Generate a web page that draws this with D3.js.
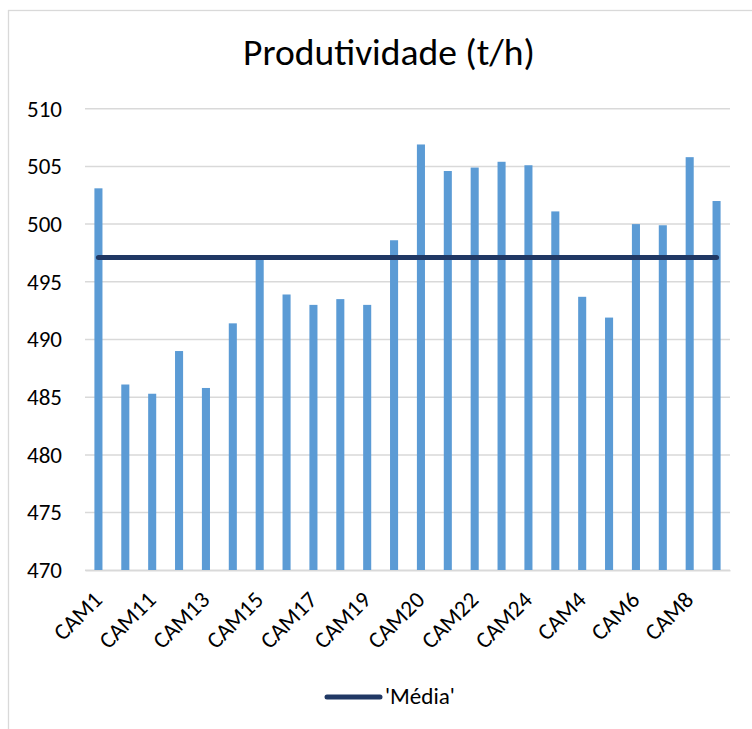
<!DOCTYPE html>
<html>
<head>
<meta charset="utf-8">
<script src="https://cdn.jsdelivr.net/npm/d3@7"></script>
<style>
  body { margin: 0; background: #fff; }
  #chart { width: 752px; height: 729px; }
  text { font-family: Carlito, Lato, 'Open Sans', sans-serif; fill: #000; }
</style>
</head>
<body>
<div id="chart"></div>
<script>
const categories = [
  'CAM1', 'CAM10', 'CAM11', 'CAM12', 'CAM13', 'CAM14', 'CAM15', 'CAM16',
  'CAM17', 'CAM18', 'CAM19', 'CAM2', 'CAM20', 'CAM21', 'CAM22', 'CAM23',
  'CAM24', 'CAM3', 'CAM4', 'CAM5', 'CAM6', 'CAM7', 'CAM8', 'CAM9',
];
const produtividade = [
  503.1, 486.1, 485.3, 489.0, 485.8, 491.4, 497.0, 493.9,
  493.0, 493.5, 493.0, 498.6, 506.9, 504.6, 504.9, 505.4,
  505.1, 501.1, 493.7, 491.9, 500.0, 499.9, 505.8, 502.0,
];
const media = [
  497.1, 497.1, 497.1, 497.1, 497.1, 497.1, 497.1, 497.1,
  497.1, 497.1, 497.1, 497.1, 497.1, 497.1, 497.1, 497.1,
  497.1, 497.1, 497.1, 497.1, 497.1, 497.1, 497.1, 497.1,
];
const yTicks = [470, 475, 480, 485, 490, 495, 500, 505, 510];

const margin = { top: 108.7, right: 22, bottom: 158.7, left: 85 },
  width = 752 - margin.left - margin.right,
  height = 729 - margin.top - margin.bottom;

// scale a text's font so that the given node is `target` px wide
function fitFont(sel, node, target) {
  const w = node.getComputedTextLength();
  const fs = parseFloat(d3.select(node).style('font-size'));
  sel.style('font-size', (fs * target) / w + 'px');
}

const root = d3
  .select('#chart')
  .append('svg')
  .attr('width', 752)
  .attr('height', 729);

// chart frame (only left and top edges are inside the window)
root
  .append('rect')
  .attr('x', 8.5)
  .attr('y', 10.5)
  .attr('width', 800)
  .attr('height', 800)
  .attr('fill', 'none')
  .attr('stroke', '#d9d9d9')
  .attr('stroke-width', 1.3);

const title = root
  .append('text')
  .attr('x', 389)
  .attr('y', 65)
  .attr('text-anchor', 'middle')
  .style('font-size', '31px')
  .text('Produtividade (t/h)');
fitFont(title, title.node(), 292);

const svg = root
  .append('g')
  .attr('transform', 'translate(' + margin.left + ',' + margin.top + ')');

const x = d3
  .scaleBand()
  .domain(categories)
  .range([0, width])
  .paddingInner(0.7)
  .paddingOuter(0.35);
const y = d3.scaleLinear().domain([470, 510]).range([height, 0]);

// gridlines
svg
  .selectAll('.grid')
  .data(yTicks)
  .enter()
  .append('line')
  .attr('class', 'grid')
  .attr('x1', 0)
  .attr('x2', width)
  .attr('y1', (d) => y(d))
  .attr('y2', (d) => y(d))
  .attr('stroke', '#d9d9d9')
  .attr('stroke-width', 1.5);

// y axis labels
const yAxis = svg
  .append('g')
  .call(d3.axisLeft(y).tickValues(yTicks).tickSize(0).tickPadding(23));
yAxis.select('.domain').remove();
const yLabels = yAxis
  .selectAll('text')
  .attr('font-family', null)
  .style('font-size', '20px');
fitFont(yLabels, yLabels.filter((d) => d === 510).node(), 35);

// bars
svg
  .selectAll('.bar')
  .data(categories)
  .enter()
  .append('rect')
  .attr('class', 'bar')
  .attr('x', (d) => x(d))
  .attr('y', (d, i) => y(produtividade[i]))
  .attr('width', x.bandwidth())
  .attr('height', (d, i) => height - y(produtividade[i]))
  .attr('fill', '#5b9bd5');

// x axis, labels on every second category
const xAxis = svg
  .append('g')
  .attr('transform', `translate(0,${height})`)
  .call(
    d3
      .axisBottom(x)
      .tickSize(0)
      .tickFormat((d, i) => (i % 2 === 0 ? d : ''))
  );
xAxis.select('.domain').attr('stroke', '#d9d9d9').attr('stroke-width', 1.5);
const xLabels = xAxis
  .selectAll('text')
  .attr('font-family', null)
  .style('font-size', '20px')
  .style('text-anchor', 'end')
  .attr('y', 0)
  .attr('dx', 0)
  .attr('dy', 0)
  .attr('transform', 'translate(5,31) rotate(-45)');
fitFont(xLabels, xLabels.filter((d) => d === 'CAM20').node(), 69);

// mean line
const line = d3
  .line()
  .x((d, i) => x(categories[i]) + x.bandwidth() / 2)
  .y((d) => y(d));

svg
  .append('path')
  .datum(media)
  .attr('fill', 'none')
  .attr('stroke', '#203864')
  .attr('stroke-width', 5)
  .attr('stroke-linecap', 'round')
  .attr('d', line);

// legend
const legend = root.append('g').attr('transform', 'translate(327,697)');
legend
  .append('line')
  .attr('x1', 0)
  .attr('x2', 53)
  .attr('stroke', '#203864')
  .attr('stroke-width', 5)
  .attr('stroke-linecap', 'round');
const legendText = legend
  .append('text')
  .attr('x', 58)
  .attr('y', 7)
  .style('font-size', '20px')
  .text("'Média'");
fitFont(legendText, legendText.node(), 70);
</script>
</body>
</html>
